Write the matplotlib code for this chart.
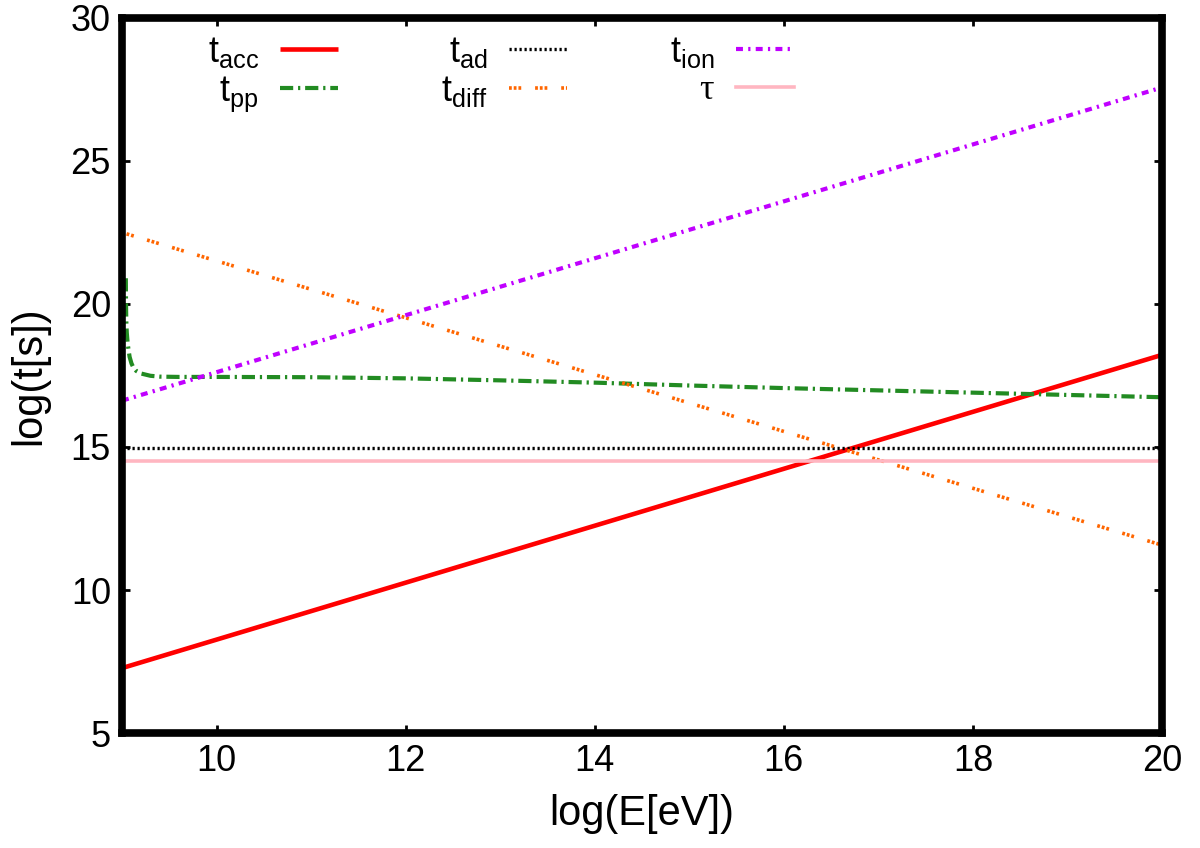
#!/usr/bin/env python3
"""Timescales vs energy: acceleration, losses and age."""
import matplotlib
matplotlib.use("Agg")
import matplotlib.pyplot as plt

# log(E[eV]) sample points and log(t[s])
E_LINE = [9.0, 20.0]
T_ACC = [7.27, 18.22]
T_AD = [14.97, 14.97]
T_ION = [16.62, 27.57]
T_DIFF = [22.50, 11.57]
T_AGE = [14.50, 14.50]

E_PP = [9.04, 9.042, 9.045, 9.05, 9.06, 9.08, 9.1, 9.12, 9.15, 9.2, 9.3, 9.4, 9.6,
        10.0, 11.0, 12.0, 13.0, 14.0, 15.0, 16.0, 17.0, 18.0, 19.0, 20.0]
T_PP = [20.9, 20.0, 19.4, 19.0, 18.6, 18.15, 17.92, 17.78, 17.66, 17.57, 17.49, 17.46, 17.45,
        17.45, 17.44, 17.40, 17.33, 17.25, 17.15, 17.06, 16.98, 16.90, 16.82, 16.74]

LABELS = [r"$\mathregular{t_{acc}}$", r"$\mathregular{t_{pp}}$",
          r"$\mathregular{t_{ad}}$", r"$\mathregular{t_{diff}}$",
          r"$\mathregular{t_{ion}}$", "τ"]


def main():
    plt.rcParams["font.family"] = ["Liberation Sans", "DejaVu Sans"]
    plt.rcParams["mathtext.fontset"] = "stix"
    plt.rcParams["lines.scale_dashes"] = False

    fig = plt.figure(figsize=(12, 8.48), dpi=100)
    ax = fig.add_axes([0.1017, 0.1356, 0.8666, 0.8432])

    h_acc, = ax.plot(E_LINE, T_ACC, color="red", lw=3.3, solid_capstyle="butt")
    h_pp, = ax.plot(E_PP, T_PP, color="#228b22", lw=3.0,
                    linestyle=(0, (9.5, 3.5, 1.6, 3.5)))
    h_ad, = ax.plot(E_LINE, T_AD, color="black", lw=2.4,
                    linestyle=(0, (1.6, 2.0)))
    h_diff, = ax.plot(E_LINE, T_DIFF, color="#ff6600", lw=2.6,
                      linestyle=(0, (2.0, 1.4, 2.0, 1.4, 2.0, 10.0)))
    h_ion, = ax.plot(E_LINE, T_ION, color="#c000ff", lw=3.0,
                     linestyle=(0, (5.0, 3.8, 1.6, 3.8)))
    h_age, = ax.plot(E_LINE, T_AGE, color="#ffb6c1", lw=2.6)

    ax.set_xlim(9, 20)
    ax.set_ylim(5, 30)
    ax.set_xticks([10, 12, 14, 16, 18, 20])
    ax.set_yticks([5, 10, 15, 20, 25, 30])
    ax.tick_params(direction="in", length=6, width=2, labelsize=26, pad=8,
                   top=True, right=True)
    for sp in ax.spines.values():
        sp.set_linewidth(5.5)

    ax.set_xlabel("log(E[eV])", fontsize=30, labelpad=11)
    ax.set_ylabel("log(t[s])", fontsize=30, labelpad=15)

    handles = [h_acc, h_pp, h_ad, h_diff, h_ion, h_age]
    leg = ax.legend(handles, LABELS, ncol=3, frameon=False, markerfirst=False,
                    loc="upper left", bbox_to_anchor=(0.058, 1.012), fontsize=26,
                    handlelength=1.6, handletextpad=0.6, columnspacing=2.85,
                    labelspacing=0.12, borderpad=0.2)
    leg.get_texts()[5].set_family(["Liberation Serif", "DejaVu Serif"])

    fig.savefig("out.png", dpi=100)
    plt.close(fig)


if __name__ == "__main__":
    main()
